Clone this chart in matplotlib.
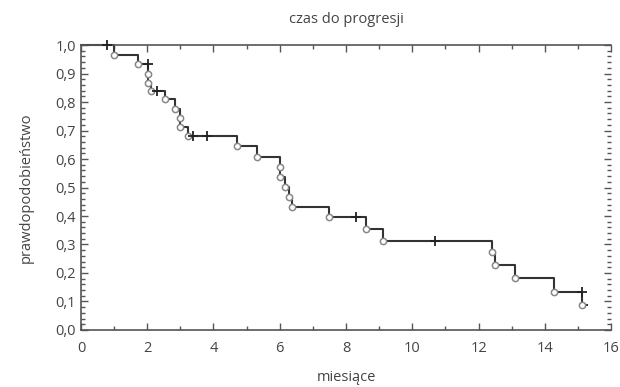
# krzywa Kaplana-Meiera: czas do progresji
import matplotlib.pyplot as plt
import numpy as np
from matplotlib.ticker import MultipleLocator, FuncFormatter

plt.rcParams['font.family'] = ['Open Sans', 'DejaVu Sans']

# czasy zdarzen (miesiace) i prawdopodobienstwo po zdarzeniu
czas_zdarzen = [1.01, 1.72, 2.02, 2.02, 2.12, 2.53, 2.83, 2.99, 2.99, 3.24, 4.71, 5.31,
                6.02, 6.02, 6.17, 6.27, 6.38, 7.49, 8.6, 9.11, 12.4, 12.5, 13.1, 14.27, 15.13]
przezycie = [0.966, 0.932, 0.898, 0.865, 0.837, 0.809, 0.776, 0.744, 0.711, 0.679, 0.644, 0.608,
             0.573, 0.537, 0.501, 0.466, 0.430, 0.395, 0.354, 0.313, 0.272, 0.227, 0.181, 0.135, 0.089]

# obserwacje ucięte
czas_ucietych = [0.79, 2.02, 2.28, 3.39, 3.8, 8.3, 10.68, 15.13]
wartosc_ucietych = [1.0, 0.932, 0.837, 0.679, 0.679, 0.395, 0.313, 0.135]

koniec = 15.26

fig = plt.figure(figsize=(6.2, 3.87), dpi=100)
ax = fig.add_axes([0.1306, 0.1473, 0.855, 0.7364])

# linia schodkowa
xs = [0.0] + czas_zdarzen + [koniec]
ys = [1.0] + przezycie + [przezycie[-1]]
ax.step(xs, ys, where='post', color='#333333', lw=1.5, zorder=2, clip_on=False)

# zdarzenia
ax.plot(czas_zdarzen, przezycie, 'o', ms=4.5, mfc='white', mec='#888888', mew=1.1, zorder=3)
# ucięte
ax.plot(czas_ucietych, wartosc_ucietych, '+', ms=7, color='#222222', mew=1.3, zorder=4,
        clip_on=False)

ax.set_xlim(0, 16)
ax.set_ylim(0, 1.0)
ax.xaxis.set_major_locator(MultipleLocator(2))
ax.xaxis.set_minor_locator(MultipleLocator(1))
ax.yaxis.set_major_locator(MultipleLocator(0.1))
ax.yaxis.set_minor_locator(MultipleLocator(0.02))
ax.yaxis.set_major_formatter(FuncFormatter(lambda v, p: ('%.1f' % v).replace('.', ',')))

ax.tick_params(which='both', direction='in', top=True, right=True, color='#555555',
               labelcolor='#444444', labelsize=10.5)
ax.tick_params(which='major', length=5, width=1)
ax.tick_params(which='minor', length=3, width=1)
ax.tick_params(axis='x', pad=8)
for s in ax.spines.values():
    s.set_color('#555555')
    s.set_linewidth(1.2)
ax.spines['right'].set_visible(False)

ax.set_xlabel('miesiące', fontsize=10.5, color='#444444', labelpad=10)
ax.set_ylabel('prawdopodobieństwo', fontsize=10.5, color='#444444', labelpad=16)
ax.set_title('czas do progresji', fontsize=10.5, color='#444444', pad=16)

fig.savefig('out.png', dpi=100)
